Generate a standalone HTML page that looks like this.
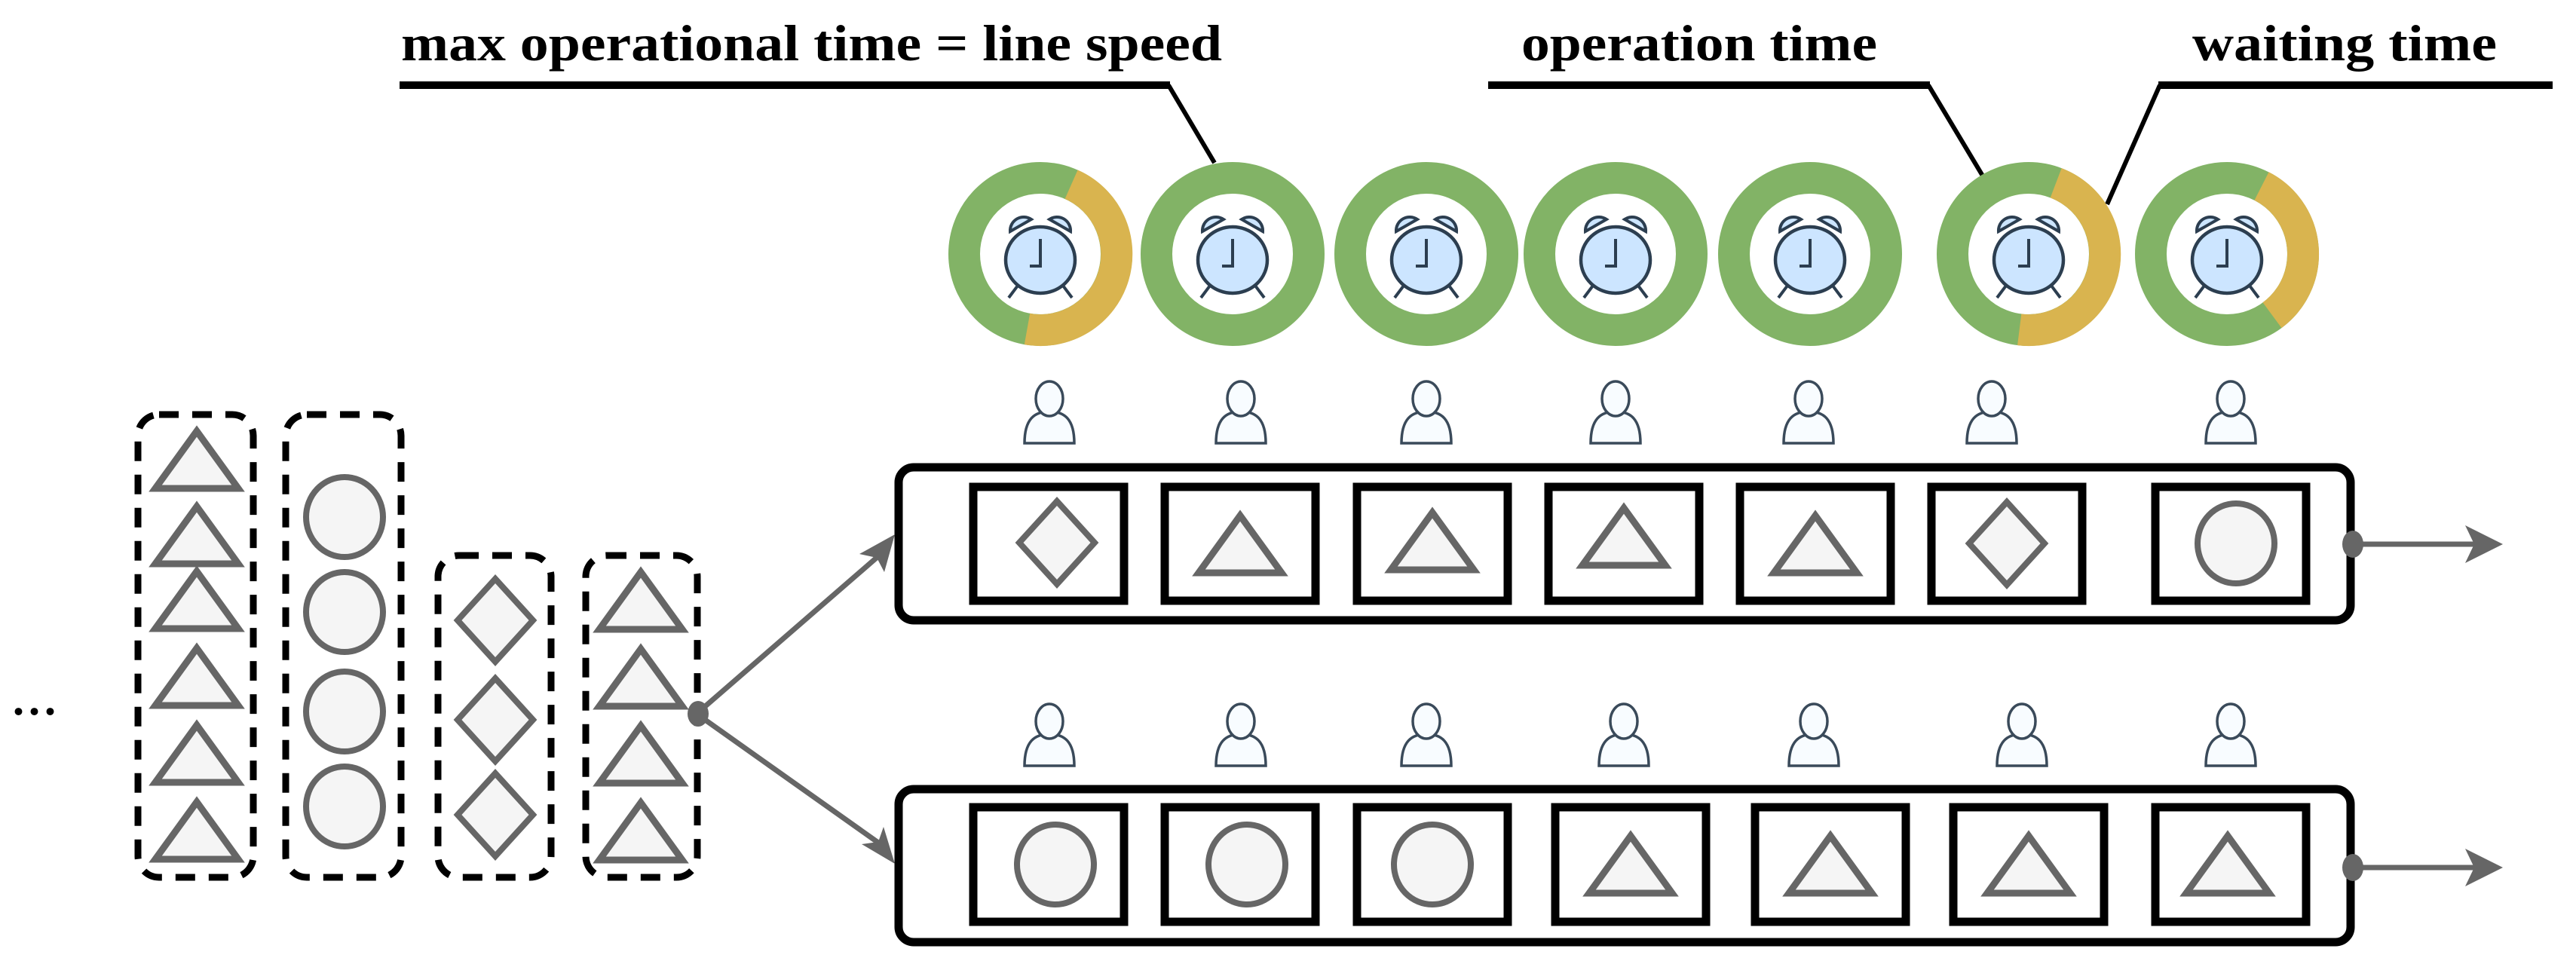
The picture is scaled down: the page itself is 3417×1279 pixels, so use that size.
<!DOCTYPE html>
<html><head><meta charset="utf-8"><style>html,body{margin:0;padding:0;background:#fff}svg{display:block}</style></head>
<body>
<svg width="3417" height="1279" viewBox="0 0 3417 1279" xmlns="http://www.w3.org/2000/svg">
<defs>
<g id="clk">
  <path d="M-40,-36 A18,18 0 0 1 -12,-52 Z" fill="#cce5ff" stroke="#2c3e50" stroke-width="4"/>
  <path d="M40,-36 A18,18 0 0 0 12,-52 Z" fill="#cce5ff" stroke="#2c3e50" stroke-width="4"/>
  <line x1="-30" y1="36" x2="-42" y2="52" stroke="#2c3e50" stroke-width="4"/>
  <line x1="30" y1="36" x2="42" y2="52" stroke="#2c3e50" stroke-width="4"/>
  <ellipse cx="0" cy="2" rx="46" ry="44" fill="#cce5ff" stroke="#2c3e50" stroke-width="4.5"/>
  <path d="M0,-26 L0,10 L-14,10" fill="none" stroke="#2c3e50" stroke-width="4"/>
</g>
<g id="per">
  <path d="M-33,40 C-33,8 -20,-2 0,-2 C20,-2 33,8 33,40 Z" fill="#f8fcff" stroke="#3a4a5a" stroke-width="3.5"/>
  <ellipse cx="0" cy="-19" rx="18" ry="23" fill="#f8fcff" stroke="#3a4a5a" stroke-width="3.5"/>
</g>
<g id="tri"><polygon points="0,-38 55,38 -55,38" fill="#f5f5f5" stroke="#666" stroke-width="9" stroke-linejoin="miter"/></g>
<g id="dia"><polygon points="0,-55 50,0 0,55 -50,0" fill="#f5f5f5" stroke="#666" stroke-width="8"/></g>
<g id="cir"><ellipse cx="0" cy="0" rx="51" ry="53" fill="#f5f5f5" stroke="#666" stroke-width="8"/></g>
</defs>

<g font-family="'Liberation Serif', serif" font-weight="bold" font-size="68" fill="#000">
  <text x="532" y="80" textLength="1089" lengthAdjust="spacingAndGlyphs">max operational time = line speed</text>
  <text x="2018" y="80" textLength="472" lengthAdjust="spacingAndGlyphs">operation time</text>
  <text x="2908" y="80" textLength="404" lengthAdjust="spacingAndGlyphs">waiting time</text>
</g>
<g fill="none" stroke="#000" stroke-linejoin="miter">
  <polyline points="530,113 1552,113" stroke-width="10"/>
  <line x1="1550" y1="113" x2="1611" y2="216" stroke-width="6"/>
  <polyline points="1974,113 2560,113" stroke-width="10"/>
  <line x1="2558" y1="113" x2="2631" y2="235" stroke-width="6"/>
  <polyline points="2863,113 3386,113" stroke-width="10"/>
  <line x1="2865" y1="113" x2="2795" y2="271" stroke-width="6"/>
</g>

<g fill="none" stroke-width="42">
  <circle cx="1380" cy="337" r="101" stroke="#82b366"/>
  <circle cx="1635" cy="337" r="101" stroke="#82b366"/>
  <circle cx="1892" cy="337" r="101" stroke="#82b366"/>
  <circle cx="2143" cy="337" r="101" stroke="#82b366"/>
  <circle cx="2401" cy="337" r="101" stroke="#82b366"/>
  <circle cx="2691" cy="337" r="101" stroke="#82b366"/>
  <circle cx="2954" cy="337" r="101" stroke="#82b366"/>
  <path d="M1421.1,244.7 A101,101 0 0 1 1362.5,436.5" stroke="#d9b44f"/>
  <path d="M2727.2,242.7 A101,101 0 0 1 2678.7,437.3" stroke="#d9b44f"/>
  <path d="M3000,247 A101,101 0 0 1 3014,418.2" stroke="#d9b44f"/>
</g>
<use href="#clk" x="1380" y="343"/>
<use href="#clk" x="1635" y="343"/>
<use href="#clk" x="1892" y="343"/>
<use href="#clk" x="2143" y="343"/>
<use href="#clk" x="2401" y="343"/>
<use href="#clk" x="2691" y="343"/>
<use href="#clk" x="2954" y="343"/>

<use href="#per" x="1392" y="548"/><use href="#per" x="1646" y="548"/><use href="#per" x="1892" y="548"/>
<use href="#per" x="2143" y="548"/><use href="#per" x="2399" y="548"/><use href="#per" x="2642" y="548"/><use href="#per" x="2959" y="548"/>
<use href="#per" x="1392" y="976"/><use href="#per" x="1646" y="976"/><use href="#per" x="1892" y="976"/>
<use href="#per" x="2154" y="976"/><use href="#per" x="2406" y="976"/><use href="#per" x="2682" y="976"/><use href="#per" x="2959" y="976"/>

<g fill="none" stroke="#000" stroke-width="11">
  <rect x="1192" y="620" width="1926" height="203" rx="20"/>
  <rect x="1192" y="1047" width="1926" height="203" rx="20"/>
  <rect x="1291" y="646" width="200" height="151"/>
  <rect x="1545" y="646" width="200" height="151"/>
  <rect x="1800" y="646" width="200" height="151"/>
  <rect x="2054" y="646" width="200" height="151"/>
  <rect x="2308" y="646" width="200" height="151"/>
  <rect x="2562" y="646" width="200" height="151"/>
  <rect x="2859" y="646" width="200" height="151"/>
  <rect x="1291" y="1071" width="200" height="152"/>
  <rect x="1545" y="1071" width="200" height="152"/>
  <rect x="1800" y="1071" width="200" height="152"/>
  <rect x="2063" y="1071" width="200" height="152"/>
  <rect x="2328" y="1071" width="200" height="152"/>
  <rect x="2591" y="1071" width="200" height="152"/>
  <rect x="2859" y="1071" width="200" height="152"/>
</g>
<use href="#dia" x="1402" y="720"/>
<use href="#tri" x="1645" y="722"/>
<use href="#tri" x="1900" y="718"/>
<use href="#tri" x="2154" y="712"/>
<use href="#tri" x="2408" y="722"/>
<use href="#dia" x="2662" y="721"/>
<use href="#cir" x="2966" y="721"/>
<use href="#cir" x="1400" y="1147"/>
<use href="#cir" x="1654" y="1147"/>
<use href="#cir" x="1900" y="1147"/>
<use href="#tri" x="2163" y="1147"/>
<use href="#tri" x="2428" y="1147"/>
<use href="#tri" x="2691" y="1147"/>
<use href="#tri" x="2955" y="1147"/>

<g stroke="#666" stroke-width="7" fill="#666">
  <line x1="3121" y1="722" x2="3290" y2="722"/>
  <ellipse cx="3121" cy="722" rx="14" ry="18" stroke="none"/>
  <polygon points="3320,722 3270,697 3282,722 3270,747" stroke="none"/>
  <line x1="3121" y1="1151" x2="3290" y2="1151"/>
  <ellipse cx="3121" cy="1151" rx="14" ry="18" stroke="none"/>
  <polygon points="3320,1151 3270,1126 3282,1151 3270,1176" stroke="none"/>
</g>

<g fill="none" stroke="#000" stroke-width="9" stroke-dasharray="26 18">
  <rect x="183" y="550" width="153" height="614" rx="28"/>
  <rect x="379" y="550" width="153" height="614" rx="28"/>
  <rect x="581" y="737" width="150" height="427" rx="28"/>
  <rect x="777" y="737" width="148" height="427" rx="28"/>
</g>
<use href="#tri" x="261" y="610"/><use href="#tri" x="261" y="710"/><use href="#tri" x="261" y="796"/>
<use href="#tri" x="261" y="898"/><use href="#tri" x="261" y="1000"/><use href="#tri" x="261" y="1102"/>
<use href="#cir" x="457" y="686"/><use href="#cir" x="457" y="812"/><use href="#cir" x="457" y="944"/><use href="#cir" x="457" y="1070"/>
<use href="#dia" x="657" y="823"/><use href="#dia" x="657" y="955"/><use href="#dia" x="657" y="1081"/>
<use href="#tri" x="850" y="797"/><use href="#tri" x="850" y="899"/><use href="#tri" x="850" y="1001"/><use href="#tri" x="850" y="1103"/>

<g stroke="#666" stroke-width="7" fill="#666">
  <line x1="924" y1="947" x2="1165" y2="738"/>
  <line x1="924" y1="947" x2="1165" y2="1118"/>
  <ellipse cx="926" cy="947" rx="14" ry="17" stroke="none"/>
  <polygon points="1187,709 1173,759 1163,740 1140,735" stroke="none"/>
  <polygon points="1187,1146 1143,1120 1165,1117 1172,1097" stroke="none"/>
</g>
<text x="14" y="948" font-family="'Liberation Serif', serif" font-size="84" fill="#000">...</text>
</svg>
</body></html>
